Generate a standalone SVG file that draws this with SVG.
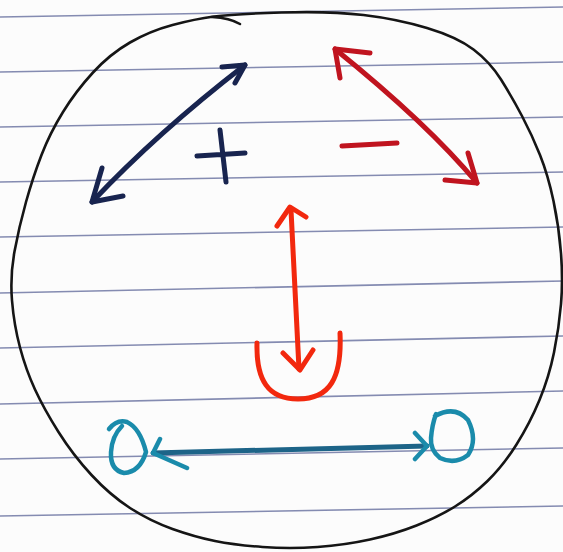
<svg xmlns="http://www.w3.org/2000/svg" width="563" height="552" viewBox="0 0 563 552">
<style>
.rule{stroke:#6f77a3;stroke-width:1.6;fill:none;opacity:.85}
.ink{fill:none;stroke-linecap:round;stroke-linejoin:round}
.outline{stroke:#151515;stroke-width:2.6}
.navy{stroke:#18244f;stroke-width:5}
.crimson{stroke:#c0141f;stroke-width:5}
.orange{stroke:#f2280e;stroke-width:5}
.tealline{stroke:#1d6488;stroke-width:5}
.teal{stroke:#1a8bab;stroke-width:4.5}
</style>
<rect width="563" height="552" fill="#fcfcfc"/>
<g id="paper-lines">
<line class="rule" x1="0" y1="17" x2="563" y2="7"/>
<line class="rule" x1="0" y1="72" x2="563" y2="62"/>
<line class="rule" x1="0" y1="127" x2="563" y2="117"/>
<line class="rule" x1="0" y1="182" x2="563" y2="172"/>
<line class="rule" x1="0" y1="237" x2="563" y2="227"/>
<line class="rule" x1="0" y1="293" x2="563" y2="281"/>
<line class="rule" x1="0" y1="348" x2="563" y2="336"/>
<line class="rule" x1="0" y1="404" x2="563" y2="391"/>
<line class="rule" x1="0" y1="459" x2="563" y2="448"/>
<line class="rule" x1="0" y1="516" x2="563" y2="506"/>
</g>
<g id="circle">
<path class="ink outline" d="M 214 16.5 Q 233 14 281.5 12.5 Q 330 11 363.5 15 Q 397 19 427 28 Q 457 37 473.5 49.5 Q 490 62 501 79.5 Q 512 97 522 116 Q 532 135 540 155 Q 548 175 553.5 201 Q 559 227 561 253.5 Q 563 280 561 304 Q 559 328 554 352.5 Q 549 377 539.5 400 Q 530 423 516.5 444.5 Q 503 466 487.5 481 Q 472 496 455 506.5 Q 438 517 416.5 525.5 Q 395 534 370 539.5 Q 345 545 317.5 547 Q 290 549 262.5 547 Q 235 545 215 541 Q 195 537 172.5 529 Q 150 521 130 508 Q 110 495 91.5 475 Q 73 455 58.5 432 Q 44 409 35 389.5 Q 26 370 20 347.5 Q 14 325 12 300.5 Q 10 276 14.5 251.5 Q 19 227 26 202 Q 33 177 41.5 155 Q 50 133 63 112 Q 76 91 93 72.5 Q 110 54 130 42.5 Q 150 31 172.5 25 Q 195 19 214 16.5 Z"/>
<path class="ink outline" d="M 240 24 Q 230 18 212 17"/>
</g>
<g id="plus-sign">
<path class="ink navy" d="M 197 156 L 245 153 M 220 130 L 226 182"/>
</g>
<g id="minus-sign">
<path class="ink crimson" d="M 342 146 L 397 143"/>
</g>
<g id="cup">
<path class="ink orange" d="M 257 343 C 256 380 268 399 298 399 C 330 399 342 378 340 333"/>
</g>
<g id="left-loop">
<path class="ink teal" d="M 109 429 Q 117 419 127 422 Q 140 428 146 452 Q 140 472 124 473 Q 110 470 111 452 Q 112 436 122 426"/>
</g>
<g id="right-loop">
<path class="ink teal" d="M 435 416 Q 455 405 468 420 Q 478 440 468 455 Q 455 465 440 458 Q 430 450 431 438 Q 432 425 436 414"/>
</g>
<g id="connectors">
<g id="blue-arrow">
<path class="ink navy" d="M 92 202 Q 157.5 132.5 245 65"/>
<path class="ink navy" d="M 222 67 L 245 65 L 235 83 M 102 168 L 92 202 L 123 196"/>
</g>
<g id="red-arrow">
<path class="ink crimson" d="M 335 49 Q 428 124 477 183"/>
<path class="ink crimson" d="M 370 53 L 335 49 L 340 78 M 468 153 L 477 183 L 445 180"/>
</g>
<g id="vertical-arrow">
<path class="ink orange" d="M 291 210 L 299 369"/>
<path class="ink orange" d="M 277 226 L 290 207 L 306 217 M 283 353 L 300 370 L 313 350"/>
</g>
<g id="teal-arrow">
<path class="ink tealline" d="M 153 453 L 427 446"/>
<path class="ink teal" d="M 160 439 L 153 453 L 187 468 M 415 433 L 427 446 L 415 459"/>
</g>
</g>
</svg>
